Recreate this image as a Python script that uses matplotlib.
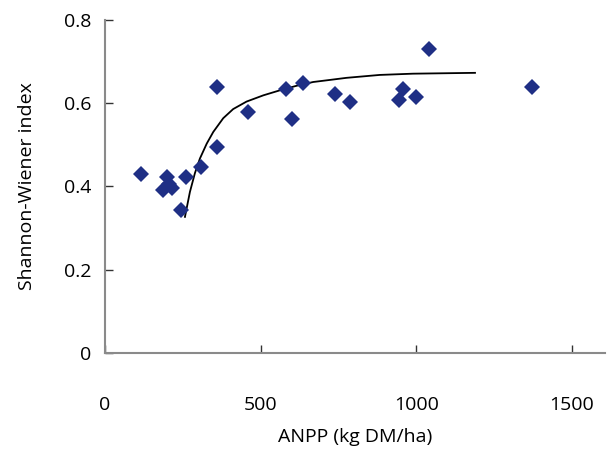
import numpy as np
import matplotlib
matplotlib.use('Agg')
import matplotlib.pyplot as plt

plt.rcParams['font.family'] = ['Open Sans', 'DejaVu Sans']

# observed points, ANPP vs Shannon-Wiener index
anpp = [115, 198, 187, 214, 205, 259, 244, 307, 361, 361, 458, 581, 637, 602,
        740, 787, 944, 958, 1001, 1042, 1372]
shannon = [0.429, 0.423, 0.391, 0.397, 0.405, 0.423, 0.343, 0.447, 0.639, 0.495,
           0.579, 0.633, 0.648, 0.562, 0.622, 0.603, 0.607, 0.635, 0.614, 0.730,
           0.639]

# fitted curve
fit_x = [257, 273, 289, 305, 327, 348, 380, 412, 455, 509, 562, 616, 669, 723,
         776, 883, 990, 1189]
fit_y = [0.327, 0.387, 0.432, 0.467, 0.503, 0.531, 0.564, 0.586, 0.604, 0.619,
         0.631, 0.642, 0.651, 0.656, 0.661, 0.668, 0.671, 0.673]

xticks = [0, 500, 1000, 1500]
yticks = [0, 0.2, 0.4, 0.6, 0.8]
ylabels = ['0', '0.2', '0.4', '0.6', '0.8']

fig = plt.figure(figsize=(6.11, 4.5), dpi=100)
ax = fig.add_axes([0.1718, 0.2156, 0.818, 0.74])

ax.plot(fit_x, fit_y, color='black', linewidth=1.3, zorder=2)
ax.plot(anpp, shannon, linestyle='none', marker='D', markersize=8,
        color='#1f2f85', markeredgewidth=0, zorder=3)

ax.set_xlim(0, 1606)
ax.set_ylim(0, 0.8)
ax.set_xticks(xticks)
ax.set_yticks(yticks)
ax.set_yticklabels(ylabels)

for s in ['top', 'right']:
    ax.spines[s].set_visible(False)
for s in ['left', 'bottom']:
    ax.spines[s].set_color('#8a8a8a')
    ax.spines[s].set_linewidth(1.5)

ax.tick_params(axis='x', direction='in', length=6, width=1, color='#333333',
               pad=31, labelsize=14)
ax.tick_params(axis='y', direction='in', length=6, width=1, color='#333333',
               pad=10, labelsize=14)

ax.set_xlabel('ANPP (kg DM/ha)', fontsize=14, labelpad=10)
ax.set_ylabel('Shannon-Wiener index', fontsize=14, labelpad=20)

plt.savefig('out.png', dpi=100)
